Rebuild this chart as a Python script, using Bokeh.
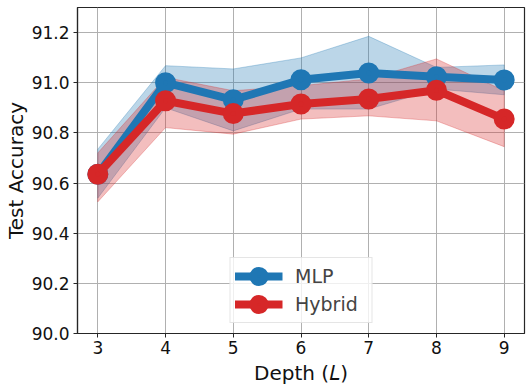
from bokeh.plotting import figure
from bokeh.models import Range1d, FixedTicker, NumeralTickFormatter, Legend, LegendItem, ColumnDataSource
from bokeh.embed import file_html
from bokeh.resources import INLINE

# ---- data ----
depth = [3, 4, 5, 6, 7, 8, 9]
mlp_mean = [90.635, 91.000, 90.932, 91.012, 91.039, 91.024, 91.011]
mlp_upper = [90.735, 91.068, 91.055, 91.099, 91.185, 91.061, 91.071]
mlp_lower = [90.540, 90.900, 90.808, 90.895, 90.895, 90.975, 90.952]
hyb_mean = [90.635, 90.928, 90.877, 90.915, 90.935, 90.970, 90.855]
hyb_upper = [90.720, 91.021, 90.968, 90.988, 91.015, 91.095, 90.968]
hyb_lower = [90.525, 90.821, 90.795, 90.855, 90.868, 90.848, 90.745]
y_ticks = [90.0, 90.2, 90.4, 90.6, 90.8, 91.0, 91.2]
x_ticks = [3, 4, 5, 6, 7, 8, 9]
series_names = ["MLP", "Hybrid"]

BLUE = "#1f77b4"
RED = "#d62728"
FONT = "DejaVu Sans"

p = figure(width=530, height=392, output_backend="svg", toolbar_location=None,
           x_range=Range1d(2.7, 9.3), y_range=Range1d(90.0, 91.3),
           min_border_left=77, min_border_right=6, min_border_top=7, min_border_bottom=59)

p.background_fill_color = "white"
p.border_fill_color = "white"
p.outline_line_color = "#262626"
p.outline_line_width = 1.2

# bands
for up, lo, col in [(mlp_upper, mlp_lower, BLUE), (hyb_upper, hyb_lower, RED)]:
    px = depth + depth[::-1]
    py = up + lo[::-1]
    p.patch(px, py, fill_color=col, fill_alpha=0.3, line_color=col, line_alpha=0.3, line_width=1)

renderers = []
for mean, col in [(mlp_mean, BLUE), (hyb_mean, RED)]:
    src = ColumnDataSource(dict(x=depth, y=mean))
    l = p.line("x", "y", source=src, line_color=col, line_width=8)
    s = p.scatter("x", "y", source=src, size=13, fill_color=col, line_color=col, line_width=8)
    renderers.append([l, s])

legend = Legend(items=[LegendItem(label=series_names[0], renderers=renderers[0]),
                       LegendItem(label=series_names[1], renderers=renderers[1])],
                location="bottom_center", orientation="vertical")
legend.label_text_font = FONT
legend.label_text_font_size = "19px"
legend.glyph_width = 48
legend.glyph_height = 28
legend.label_height = 28
legend.label_width = 72
legend.spacing = 0
legend.padding = 4
legend.label_standoff = 13
legend.border_line_color = "#cccccc"
legend.border_line_width = 1
legend.background_fill_alpha = 0.8
legend.margin = 10
p.add_layout(legend, "center")

# grid
for g in (p.xgrid, p.ygrid):
    g.grid_line_color = "#b0b0b0"
    g.grid_line_width = 1
p.xaxis.ticker = FixedTicker(ticks=x_ticks)
p.yaxis.ticker = FixedTicker(ticks=y_ticks)
p.yaxis.formatter = NumeralTickFormatter(format="0.0")

for ax in (p.xaxis, p.yaxis):
    ax.axis_line_color = "#262626"
    ax.axis_line_width = 1.2
    ax.major_tick_line_color = "#262626"
    ax.major_tick_out = 4
    ax.major_tick_in = 0
    ax.minor_tick_line_color = None
    ax.major_label_text_font = FONT
    ax.major_label_text_font_size = "17px"
    ax.major_label_text_color = "#111111"
    ax.axis_label_text_font = FONT
    ax.axis_label_text_font_size = "20px"
    ax.axis_label_text_font_style = "normal"
    ax.axis_label_text_color = "#111111"

p.xaxis.axis_label = "Depth (\U0001D43F)"
p.yaxis.axis_label = "Test Accuracy"
p.xaxis.major_label_standoff = 3
p.yaxis.major_label_standoff = 4
p.xaxis.axis_label_standoff = 4
p.yaxis.axis_label_standoff = 1

open("out.html", "w").write(file_html(p, INLINE))
